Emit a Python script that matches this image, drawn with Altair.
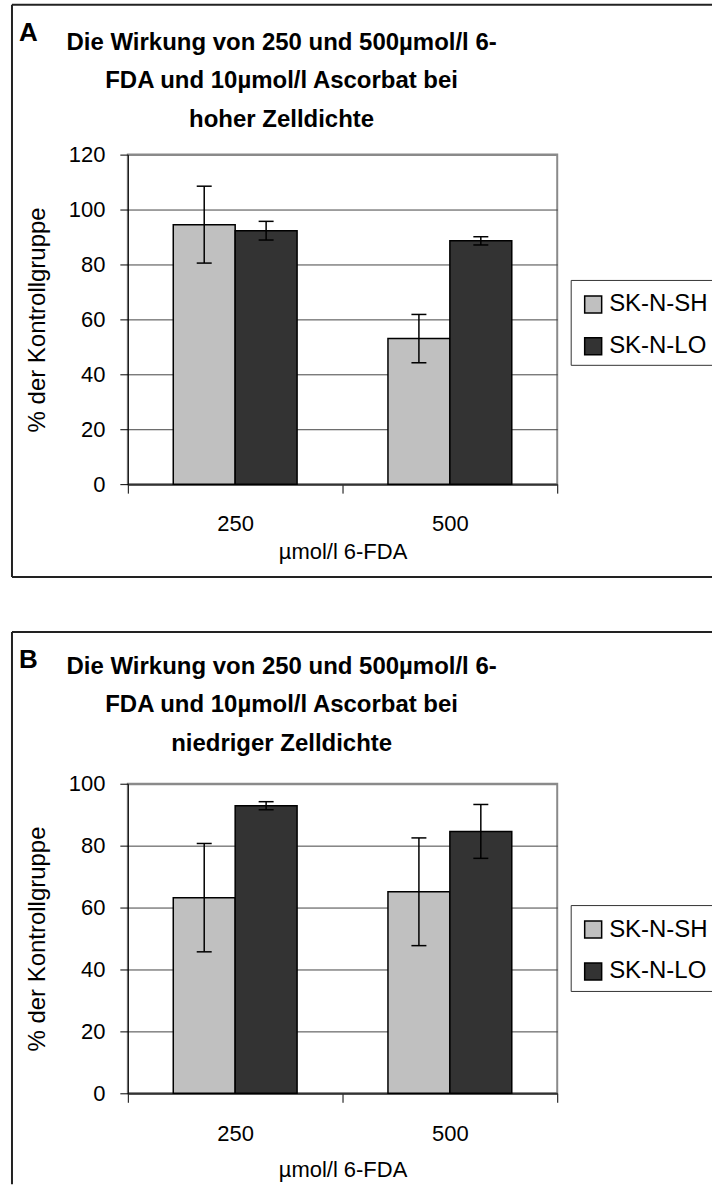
import altair as alt
import pandas as pd

# categories and series
doses = ["250", "500"]
lines = ["SK-N-SH", "SK-N-LO"]
colors = ["#c0c0c0", "#333333"]

# A: hohe Zelldichte (mean and error per dose)
a_sh_mean = [94.5, 53.0]
a_sh_err = [14.0, 8.8]
a_lo_mean = [92.3, 88.6]
a_lo_err = [3.4, 1.5]

# B: niedrige Zelldichte
b_sh_mean = [63.2, 65.1]
b_sh_err = [17.5, 17.4]
b_lo_mean = [92.9, 84.6]
b_lo_err = [1.3, 8.7]

title_a = ["Die Wirkung von 250 und 500µmol/l 6-", "FDA und 10µmol/l Ascorbat bei", "hoher Zelldichte"]
title_b = ["Die Wirkung von 250 und 500µmol/l 6-", "FDA und 10µmol/l Ascorbat bei", "niedriger Zelldichte"]
y_title = "% der Kontrollgruppe"
x_title = "µmol/l 6-FDA"

FONT = "Liberation Sans, Arial, sans-serif"
W = 430
ONE = pd.DataFrame({"k": [0]})


def table(sh_mean, sh_err, lo_mean, lo_err):
    rows = []
    for i, d in enumerate(doses):
        for name, m, e in ((lines[0], sh_mean[i], sh_err[i]), (lines[1], lo_mean[i], lo_err[i])):
            rows.append({"dose": d, "line": name, "val": m, "lo": m - e, "hi": m + e})
    return pd.DataFrame(rows)


def hrule(x1, x2, y, color="#222222", w=2):
    return alt.Chart(ONE).mark_rule(color=color, strokeWidth=w).encode(
        x=alt.value(x1), x2=alt.value(x2), y=alt.value(y))


def vrule(x, y1, y2, color="#222222", w=2):
    return alt.Chart(ONE).mark_rule(color=color, strokeWidth=w).encode(
        x=alt.value(x), y=alt.value(y1), y2=alt.value(y2))


def panel(df, ymax, h, title_lines, letter, title_y, label_pad, xt_y, leg_y, frame_top, frame_bottom,
          box_top, box_bottom, closed):
    y_axis = alt.Axis(
        values=list(range(0, ymax + 1, 20)), tickSize=8, tickColor="black", tickWidth=1,
        domainColor="black", domainWidth=1, labelFontSize=22, labelFont=FONT, labelColor="black",
        labelPadding=15,
        gridColor={"condition": {"test": f"datum.value == {ymax}", "value": "#8a8a8a"}, "value": "#444444"},
        gridWidth={"condition": {"test": f"datum.value == {ymax}", "value": 2}, "value": 1},
        titleFontSize=24, titleFont=FONT, titleFontWeight="normal", titleColor="black",
        titleX=-90, titleY=h / 2, titleAngle=270, titleBaseline="middle", titleAlign="center",
    )
    x_axis = alt.Axis(
        labelAngle=0, tickBand="extent", tickSize=9, tickColor="black", tickWidth=1,
        domainColor="#333333", domainWidth=2, labelFontSize=22, labelFont=FONT, labelColor="black",
        labelPadding=label_pad, titleFontSize=22, titleFont=FONT, titleFontWeight="normal",
        titleColor="black", titleX=W / 2, titleY=xt_y, titleBaseline="middle", titleAlign="center",
        grid=False,
    )
    yscale = alt.Scale(domain=[0, ymax], nice=False)
    base = alt.Chart(df).encode(
        x=alt.X("dose:N", sort=doses, title=x_title, axis=x_axis,
                scale=alt.Scale(paddingInner=0, paddingOuter=0)),
        xOffset=alt.XOffset("line:N", sort=lines, scale=alt.Scale(paddingInner=0, paddingOuter=0.734)),
    )
    bars = base.mark_bar(stroke="black", strokeWidth=1.5).encode(
        y=alt.Y("val:Q", scale=yscale, axis=y_axis, title=y_title),
        color=alt.Color("line:N", sort=lines, scale=alt.Scale(domain=lines, range=colors),
                        legend=alt.Legend(title=None, orient="none", legendX=454, legendY=leg_y,
                                          symbolType="square", symbolSize=289, symbolStrokeColor="black",
                                          symbolStrokeWidth=1.5, symbolOpacity=1, labelFontSize=24,
                                          labelFont=FONT, labelColor="black", rowPadding=18,
                                          labelOffset=4, padding=0)),
    )
    whisker = base.mark_rule(color="black", strokeWidth=1.5).encode(
        y=alt.Y("lo:Q", scale=yscale, title=y_title), y2="hi:Q")
    cap_hi = base.mark_tick(color="black", thickness=1.5, size=15, opacity=1).encode(
        y=alt.Y("hi:Q", scale=yscale, title=y_title))
    cap_lo = base.mark_tick(color="black", thickness=1.5, size=15, opacity=1).encode(
        y=alt.Y("lo:Q", scale=yscale, title=y_title))

    heading = alt.Chart(ONE).mark_text(
        text=title_lines, font=FONT, fontSize=24, fontWeight="bold", align="center",
        baseline="alphabetic", lineHeight=38.5, color="black",
    ).encode(x=alt.value(154), y=alt.value(title_y))
    tag = alt.Chart(ONE).mark_text(
        text=letter, font=FONT, fontSize=26, fontWeight="bold", align="left",
        baseline="alphabetic", color="black",
    ).encode(x=alt.value(-109), y=alt.value(frame_top + 36))

    frame = [hrule(-116, 585, frame_top), vrule(-116, frame_top, frame_bottom)]
    if closed:
        frame.append(hrule(-116, 585, frame_bottom))
    legend_box = [
        hrule(444, 585, box_top, "#333333", 1),
        hrule(444, 585, box_bottom, "#333333", 1),
        vrule(444, box_top, box_bottom, "#333333", 1),
    ]
    return alt.layer(bars, whisker, cap_hi, cap_lo, heading, tag, *frame, *legend_box).properties(
        width=W, height=h)


panel_a = panel(table(a_sh_mean, a_sh_err, a_lo_mean, a_lo_err), 120, 330, title_a, "A",
                title_y=-105, label_pad=20, xt_y=67, leg_y=138, frame_top=-150, frame_bottom=423,
                box_top=126, box_bottom=211, closed=True)
panel_b = panel(table(b_sh_mean, b_sh_err, b_lo_mean, b_lo_err), 100, 310, title_b, "B",
                title_y=-110, label_pad=21, xt_y=76, leg_y=134, frame_top=-152, frame_bottom=401,
                box_top=122, box_bottom=208, closed=False)

chart = alt.vconcat(panel_a, panel_b, spacing=51).resolve_legend(color="independent").properties(
    padding={"left": 10, "top": 2, "right": 0, "bottom": 0},
    background="white",
).configure_view(stroke="#8a8a8a", strokeWidth=2)

chart.save("out.html", embed_options={"renderer": "svg", "actions": False})
